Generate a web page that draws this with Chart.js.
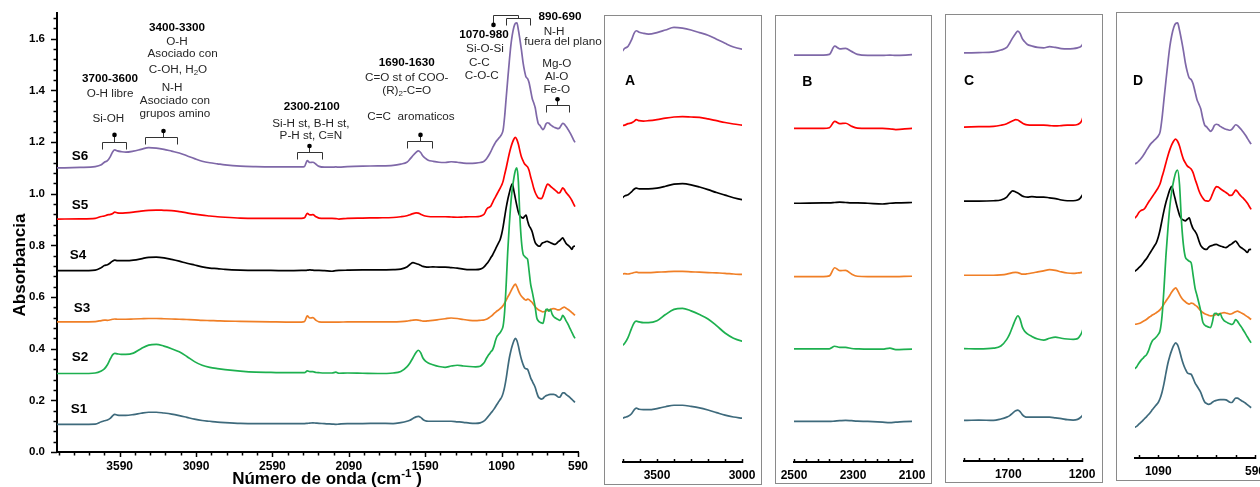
<!DOCTYPE html>
<html><head><meta charset="utf-8">
<script src="https://cdn.jsdelivr.net/npm/chart.js@4.4.1/dist/chart.umd.min.js"></script>
<style>
html,body{margin:0;padding:0;background:#fff;width:1260px;height:487px;overflow:hidden;position:relative}
.box{position:absolute;border:1px solid #8a8a8a;box-sizing:border-box}
canvas{position:absolute}
</style></head><body>
<canvas id="main" width="625" height="487" style="left:0;top:0"></canvas>
<div class="box" style="left:604px;top:15px;width:158px;height:470px"></div>
<div class="box" style="left:775px;top:15px;width:157px;height:469px"></div>
<div class="box" style="left:945px;top:14px;width:158px;height:469px"></div>
<div class="box" style="left:1116px;top:12px;width:200px;height:469px"></div>
<canvas id="insA" width="155" height="467" style="left:605px;top:16px"></canvas>
<canvas id="insB" width="154" height="466" style="left:776px;top:16px"></canvas>
<canvas id="insC" width="155" height="466" style="left:946px;top:15px"></canvas>
<canvas id="insD" width="180" height="466" style="left:1117px;top:13px"></canvas>
<script>
// ---------- DATA ----------
const wavenumbers = [4000,3850,3750,3710,3690,3670,3650,3635,3622,3605,3580,3550,3500,3450,3400,3350,3300,3250,3200,3150,3100,3050,3000,2950,2900,2800,2700,2600,2500,2400,2380,2362,2345,2325,2305,2285,2250,2200,2175,2155,2100,2000,1900,1800,1750,1710,1690,1670,1650,1635,1620,1605,1590,1570,1540,1500,1460,1420,1380,1340,1300,1260,1230,1210,
1200,1190,1180,1170,1160,1150,1140,1130,1120,1110,1100,1090,1080,1070,1060,1050,1040,1030,1020,1010,1000,990,980,970,960,950,940,930,920,910,900,890,880,870,860,850,840,830,820,810,800,790,780,770,760,750,740,730,720,710,700,690,680,670,660,650,640,630,620,610];

const S6 = [1.100,1.102,1.105,1.112,1.122,1.128,1.145,1.163,1.170,1.166, 1.163,1.161,1.165,1.172,1.179,1.177,1.172,1.165,1.158,1.147, 1.136,1.126,1.120,1.116,1.112,1.107,1.105,1.104,1.104,1.104, 1.106,1.128,1.121,1.122,1.114,1.106,1.103,1.103,1.104,1.103, 1.105,1.107,1.108,1.110,1.115,1.122,1.134,1.148,1.160,1.166, 1.160,1.146,1.138,1.130,1.126,1.122,1.121,1.124,1.122,1.119, 1.118,1.119,1.121,1.124,
1.128,1.135,1.143,1.153,1.164,1.177,1.188,1.199,1.207,1.214, 1.221,1.230,1.247,1.300,1.372,1.442,1.510,1.572,1.615,1.645, 1.660,1.662,1.634,1.597,1.556,1.510,1.476,1.452,1.446,1.430, 1.400,1.370,1.352,1.333,1.298,1.272,1.265,1.256,1.248,1.255, 1.270,1.275,1.273,1.267,1.263,1.259,1.256,1.254,1.252,1.255, 1.265,1.273,1.270,1.262,1.254,1.244,1.234,1.222,1.210,1.199];

const S5 = [0.902,0.903,0.905,0.912,0.914,0.918,0.920,0.924,0.929,0.926, 0.925,0.926,0.929,0.933,0.936,0.937,0.936,0.935,0.931,0.926, 0.921,0.917,0.914,0.911,0.909,0.906,0.905,0.905,0.905,0.905, 0.907,0.924,0.918,0.919,0.911,0.906,0.905,0.905,0.904,0.902, 0.905,0.906,0.907,0.908,0.911,0.915,0.919,0.923,0.926,0.925, 0.921,0.917,0.914,0.912,0.911,0.911,0.911,0.910,0.909,0.910, 0.911,0.911,0.913,0.918,
0.925,0.938,0.945,0.948,0.953,0.965,0.977,0.988,0.999,1.010, 1.021,1.033,1.049,1.075,1.100,1.128,1.155,1.178,1.197,1.211, 1.218,1.210,1.192,1.165,1.142,1.128,1.116,1.110,1.104,1.090, 1.066,1.045,1.022,1.005,0.993,0.984,0.982,0.981,0.990,1.008, 1.025,1.037,1.035,1.029,1.024,1.019,1.014,1.009,1.003,1.004, 1.013,1.023,1.017,1.007,0.999,0.992,0.984,0.974,0.962,0.950];

const S4 = [0.702,0.702,0.704,0.714,0.722,0.725,0.733,0.740,0.743,0.741, 0.741,0.741,0.743,0.748,0.754,0.755,0.752,0.746,0.739,0.731, 0.724,0.717,0.712,0.710,0.707,0.704,0.703,0.703,0.702,0.703, 0.703,0.704,0.705,0.704,0.703,0.703,0.702,0.700,0.702,0.703, 0.704,0.705,0.705,0.706,0.708,0.716,0.726,0.733,0.730,0.727, 0.723,0.719,0.717,0.716,0.717,0.716,0.716,0.714,0.712,0.708, 0.706,0.706,0.708,0.714,
0.720,0.727,0.734,0.743,0.753,0.762,0.774,0.786,0.798,0.810, 0.822,0.843,0.873,0.910,0.946,0.977,1.002,1.025,1.038,1.012, 0.982,0.953,0.928,0.914,0.909,0.906,0.912,0.917,0.895,0.876, 0.866,0.853,0.830,0.811,0.803,0.798,0.797,0.805,0.810,0.812, 0.815,0.816,0.813,0.810,0.808,0.805,0.804,0.808,0.814,0.818, 0.824,0.829,0.820,0.809,0.803,0.798,0.792,0.785,0.796,0.797];

const S3 = [0.504,0.504,0.505,0.509,0.511,0.510,0.512,0.514,0.515,0.514, 0.514,0.514,0.515,0.516,0.517,0.517,0.516,0.515,0.514,0.513, 0.512,0.510,0.509,0.508,0.507,0.506,0.505,0.504,0.503,0.503, 0.505,0.527,0.519,0.520,0.510,0.504,0.503,0.503,0.503,0.503, 0.504,0.504,0.504,0.504,0.505,0.507,0.509,0.511,0.512,0.511, 0.509,0.507,0.507,0.508,0.510,0.513,0.516,0.519,0.517,0.513, 0.510,0.509,0.510,0.511,
0.512,0.514,0.517,0.521,0.525,0.530,0.536,0.541,0.546,0.550, 0.555,0.560,0.567,0.577,0.588,0.600,0.610,0.622,0.634,0.644, 0.650,0.640,0.625,0.612,0.603,0.597,0.591,0.588,0.592,0.590, 0.584,0.579,0.570,0.562,0.556,0.551,0.548,0.545,0.543,0.544, 0.546,0.548,0.550,0.552,0.554,0.555,0.554,0.552,0.550,0.551, 0.555,0.559,0.561,0.558,0.554,0.550,0.545,0.540,0.535,0.529];

const S2 = [0.304,0.304,0.306,0.314,0.322,0.338,0.362,0.377,0.382,0.380, 0.378,0.378,0.383,0.400,0.414,0.417,0.410,0.400,0.388,0.370, 0.350,0.336,0.328,0.323,0.319,0.313,0.309,0.308,0.307,0.307, 0.307,0.314,0.311,0.311,0.308,0.307,0.306,0.306,0.309,0.305, 0.306,0.305,0.304,0.306,0.312,0.330,0.345,0.365,0.385,0.394, 0.385,0.364,0.353,0.345,0.338,0.331,0.328,0.333,0.336,0.333, 0.331,0.330,0.332,0.342,
0.350,0.362,0.372,0.380,0.388,0.395,0.410,0.432,0.448,0.455, 0.462,0.472,0.488,0.545,0.650,0.775,0.875,0.960,1.020,1.060, 1.090,1.100,1.045,0.905,0.815,0.768,0.758,0.752,0.746,0.700, 0.650,0.622,0.592,0.560,0.520,0.508,0.503,0.500,0.498,0.520, 0.552,0.553,0.545,0.552,0.535,0.525,0.520,0.516,0.513,0.510, 0.516,0.529,0.522,0.510,0.500,0.488,0.476,0.463,0.451,0.440];

const S1 = [0.107,0.107,0.108,0.117,0.121,0.124,0.131,0.141,0.146,0.143, 0.142,0.142,0.145,0.150,0.154,0.154,0.151,0.147,0.141,0.134, 0.127,0.122,0.119,0.116,0.114,0.111,0.110,0.110,0.110,0.110, 0.110,0.111,0.112,0.113,0.112,0.111,0.110,0.108,0.107,0.108, 0.110,0.110,0.111,0.110,0.114,0.119,0.123,0.130,0.136,0.138, 0.134,0.126,0.121,0.119,0.119,0.119,0.119,0.119,0.117,0.115, 0.112,0.111,0.113,0.118,
0.122,0.129,0.136,0.143,0.151,0.158,0.166,0.175,0.185,0.194, 0.203,0.212,0.228,0.252,0.285,0.325,0.362,0.390,0.412,0.430, 0.440,0.432,0.410,0.382,0.358,0.340,0.326,0.322,0.320,0.305, 0.287,0.275,0.263,0.250,0.230,0.214,0.208,0.205,0.207,0.213, 0.218,0.220,0.222,0.223,0.223,0.223,0.222,0.218,0.213,0.212, 0.220,0.229,0.229,0.224,0.219,0.215,0.210,0.204,0.198,0.192];

const seriesNames = ['S1','S2','S3','S4','S5','S6'];
const seriesValues = [S1,S2,S3,S4,S5,S6];
const mainXLabels = [3590,3090,2590,2090,1590,1090,590];
const mainYLabels = [0,0.2,0.4,0.6,0.8,1.0,1.2,1.4,1.6];

// ---------- STYLE ----------
const FONT = "'Liberation Sans', Arial, Helvetica, sans-serif";
const seriesColors = ['#3e6a7c','#1db04f','#f07f26','#000000','#ff0000','#7f68a8'];

function makeDatasets(){
  return seriesValues.map((vals,i)=>({
    label: seriesNames[i],
    data: wavenumbers.map((w,j)=>({x:w, y:vals[j]})),
    borderColor: seriesColors[i], borderWidth: 1.7,
    pointRadius: 0, fill: false, cubicInterpolationMode: 'monotone'
  }));
}

function drawRich(ctx, parts, cx, cy, size, weight, color){
  const segs = parts.map(p => typeof p === 'string' ? {t:p, s:0} : p);
  let total = 0;
  segs.forEach(sg => { sg.fs = sg.s ? size*0.68 : size; ctx.font = `${weight} ${sg.fs}px ${FONT}`; sg.w = ctx.measureText(sg.t).width; total += sg.w; });
  let x = cx - total/2;
  ctx.fillStyle = color; ctx.textBaseline = 'middle'; ctx.textAlign = 'left';
  segs.forEach(sg => {
    ctx.font = `${weight} ${sg.fs}px ${FONT}`;
    const dy = sg.s === 1 ? size*0.22 : (sg.s === -1 ? -size*0.32 : 0);
    ctx.fillText(sg.t, x, cy + dy); x += sg.w;
  });
}

// annotation texts (positions in data units: wavenumber, absorbance)
const annotTexts = [
  {p:['3700-3600'], w:3653, v:1.447, b:true},
  {p:['O-H libre'], w:3653, v:1.387},
  {p:['Si-OH'], w:3664, v:1.289},
  {p:['3400-3300'], w:3215, v:1.643, b:true},
  {p:['O-H'], w:3215, v:1.588},
  {p:['Asociado con'], w:3178, v:1.541},
  {p:['C-OH, H',{t:'2',s:1},'O'], w:3208, v:1.479},
  {p:['N-H'], w:3247, v:1.410},
  {p:['Asociado con'], w:3228, v:1.361},
  {p:['grupos amino'], w:3228, v:1.308},
  {p:['2300-2100'], w:2333, v:1.335, b:true},
  {p:['Si-H st, B-H st,'], w:2338, v:1.270},
  {p:['P-H st, C\u2261N'], w:2338, v:1.224},
  {p:['1690-1630'], w:1711, v:1.508, b:true},
  {p:['C=O st of COO-'], w:1711, v:1.448},
  {p:['(R)',{t:'2',s:1},'-C=O'], w:1711, v:1.398},
  {p:['C=C  aromaticos'], w:1683, v:1.299},
  {p:['1070-980'], w:1205, v:1.615, b:true},
  {p:['Si-O-Si'], w:1199, v:1.561},
  {p:['C-C'], w:1236, v:1.509},
  {p:['C-O-C'], w:1220, v:1.456},
  {p:['890-690'], w:708, v:1.686, b:true},
  {p:['N-H'], w:747, v:1.628},
  {p:['fuera del plano'], w:688, v:1.587},
  {p:['Mg-O'], w:729, v:1.505},
  {p:['Al-O'], w:729, v:1.452},
  {p:['Fe-O'], w:729, v:1.402}
];
// bracket segments [w1,v1,w2,v2] and dots [w,v]
const bracketLines = [
  [3704,1.202,3548,1.202],[3704,1.202,3704,1.1735],[3548,1.202,3548,1.1735],[3625,1.202,3625,1.228],
  [3424,1.221,3213,1.221],[3424,1.221,3424,1.192],[3213,1.221,3213,1.192],[3308,1.221,3308,1.243],
  [2427,1.161,2268,1.161],[2427,1.161,2427,1.134],[2268,1.161,2268,1.134],[2349,1.161,2349,1.185],
  [1707,1.206,1544,1.206],[1707,1.206,1707,1.176],[1544,1.206,1544,1.176],[1624,1.206,1624,1.228],
  [1148,1.6925,981,1.6925],[1148,1.6925,1148,1.656],[981,1.6925,981,1.6796],
  [1061,1.6796,904,1.6796],[1061,1.6796,1061,1.654],[904,1.6796,904,1.654],
  [801,1.344,647,1.344],[801,1.344,801,1.316],[647,1.344,647,1.316],[726,1.344,726,1.366]
];
const bracketDots = [[3625,1.228],[3308,1.243],[2349,1.185],[1624,1.228],[1148,1.654],[726,1.366]];
const seriesLabelPos = [[3856,0.167],[3849,0.368],[3836,0.558],[3863,0.763],[3849,0.957],[3849,1.146]];

const mainDecor = {
  id:'mainDecor',
  afterDraw(chart){
    const {ctx, chartArea:a, scales:{x,y}} = chart;
    ctx.save();
    ctx.strokeStyle = '#000'; ctx.lineWidth = 1.5;
    // y ticks
    for (let k=0; k<=42; k++){
      const v = k*0.04; const py = Math.round(y.getPixelForValue(v))+0.5;
      const major = k%5===0; const len = major?6:3.5;
      ctx.beginPath(); ctx.moveTo(a.left-len, py); ctx.lineTo(a.left, py); ctx.stroke();
    }
    // x ticks
    for (let w=590; w<=4000; w+=100){
      const px = Math.round(x.getPixelForValue(w))+0.5;
      const major = (w-590)%500===0; const len = major?5:3.5;
      ctx.beginPath(); ctx.moveTo(px, a.bottom); ctx.lineTo(px, a.bottom+len); ctx.stroke();
    }
    // axis titles
    ctx.save();
    ctx.translate(20, 265); ctx.rotate(-Math.PI/2);
    ctx.font = `bold 17px ${FONT}`; ctx.fillStyle='#000'; ctx.textAlign='center'; ctx.textBaseline='middle';
    ctx.fillText('Absorbancia', 0, 0);
    ctx.restore();
    drawRich(ctx, ['N\u00famero de onda (cm',{t:'-1',s:-1},' )'], 327, 479, 17, 'bold', '#000');
    // series labels
    seriesLabelPos.forEach((p,i)=>{
      drawRich(ctx, [seriesNames[i]], x.getPixelForValue(p[0]), y.getPixelForValue(p[1]), 13.5, 'bold', '#000');
    });
    // annotation texts
    annotTexts.forEach(t=>{
      drawRich(ctx, t.p, x.getPixelForValue(t.w), y.getPixelForValue(t.v), 11.7, t.b?'bold':'normal', t.b?'#000':'#262626');
    });
    // brackets
    ctx.strokeStyle = '#333'; ctx.lineWidth = 1;
    bracketLines.forEach(s=>{
      ctx.beginPath();
      ctx.moveTo(Math.round(x.getPixelForValue(s[0]))+0.5, Math.round(y.getPixelForValue(s[1]))+0.5);
      ctx.lineTo(Math.round(x.getPixelForValue(s[2]))+0.5, Math.round(y.getPixelForValue(s[3]))+0.5);
      ctx.stroke();
    });
    ctx.fillStyle = '#000';
    bracketDots.forEach(d=>{
      ctx.beginPath(); ctx.arc(Math.round(x.getPixelForValue(d[0]))+0.5, y.getPixelForValue(d[1]), 2.3, 0, Math.PI*2); ctx.fill();
    });
    ctx.restore();
  }
};

new Chart(document.getElementById('main'), {
  type:'line',
  data:{datasets: makeDatasets()},
  options:{
    responsive:false, animation:false, events:[],
    layout:{padding:{left:0, right:47, top:13, bottom:0}},
    plugins:{legend:{display:false}, tooltip:{enabled:false}},
    scales:{
      x:{type:'linear', min:590, max:4000, reverse:true,
        afterBuildTicks: s => { s.ticks = mainXLabels.map(v=>({value:v})); },
        afterFit: s => { s.height = 35; },
        ticks:{callback: v=>String(v), font:{family:FONT, size:12, weight:'bold'}, color:'#000', padding:2, maxRotation:0, autoSkip:false},
        grid:{display:false, drawTicks:true, tickLength:5},
        border:{display:true, color:'#000', width:2}
      },
      y:{type:'linear', min:0, max:1.7,
        afterBuildTicks: s => { s.ticks = mainYLabels.map(v=>({value:v})); },
        afterFit: s => { s.width = 57; },
        ticks:{callback: v=>Number(v).toFixed(1), font:{family:FONT, size:11.5, weight:'bold'}, color:'#000', padding:6},
        grid:{display:false, drawTicks:true, tickLength:6},
        border:{display:true, color:'#000', width:2}
      }
    }
  },
  plugins:[mainDecor]
});

// ---------- INSETS ----------
const insets = [
  {id:'insA', letter:'A', xmin:3000, xmax:3700, ymax:1.21, tickStep:100, labels:[3500,3000], pad:{left:18,right:18,top:0}, xh:21, lw:[3659,1.034]},
  {id:'insB', letter:'B', xmin:2100, xmax:2500, ymax:1.21, tickStep:40, labels:[2500,2300,2100], pad:{left:18,right:18,top:0}, xh:20, lw:[2455,1.03]},
  {id:'insC', letter:'C', xmin:1200, xmax:2000, ymax:1.21, tickStep:100, labels:[1700,1200], pad:{left:18,right:19,top:0}, xh:20, lw:[1966,1.03]},
  {id:'insD', letter:'D', xmin:590, xmax:1210, ymax:1.70, tickStep:100, labels:[1090,590], pad:{left:18,right:42,top:0}, xh:21, lw:[1194,1.44]}
];

insets.forEach(cfg=>{
  const deco = {
    id:'deco'+cfg.letter,
    afterDraw(chart){
      const {ctx, chartArea:a, scales:{x,y}} = chart;
      ctx.save();
      ctx.strokeStyle='#000'; ctx.lineWidth=1.5;
      for (let w=cfg.xmin; w<=cfg.xmax+0.01; w+=cfg.tickStep){
        const px = Math.round(x.getPixelForValue(w))+0.5;
        ctx.beginPath(); ctx.moveTo(px, a.bottom-3); ctx.lineTo(px, a.bottom+1); ctx.stroke();
      }
      drawRich(ctx, [cfg.letter], x.getPixelForValue(cfg.lw[0]), y.getPixelForValue(cfg.lw[1]), 14, 'bold', '#000');
      ctx.restore();
    }
  };
  new Chart(document.getElementById(cfg.id), {
    type:'line',
    data:{datasets: makeDatasets()},
    options:{
      responsive:false, animation:false, events:[],
      layout:{padding:{left:cfg.pad.left, right:cfg.pad.right, top:cfg.pad.top, bottom:0}},
      plugins:{legend:{display:false}, tooltip:{enabled:false}},
      scales:{
        x:{type:'linear', min:cfg.xmin, max:cfg.xmax, reverse:true,
          afterBuildTicks: s => { s.ticks = cfg.labels.map(v=>({value:v})); },
          afterFit: s => { s.height = cfg.xh; },
          ticks:{callback: v=>String(v), font:{family:FONT, size:12, weight:'bold'}, color:'#000', padding:2, maxRotation:0, autoSkip:false},
          grid:{display:false, drawTicks:true, tickLength:4},
          border:{display:true, color:'#000', width:2}
        },
        y:{type:'linear', min:0, max:cfg.ymax, display:false}
      }
    },
    plugins:[deco]
  });
});
</script>
</body></html>
